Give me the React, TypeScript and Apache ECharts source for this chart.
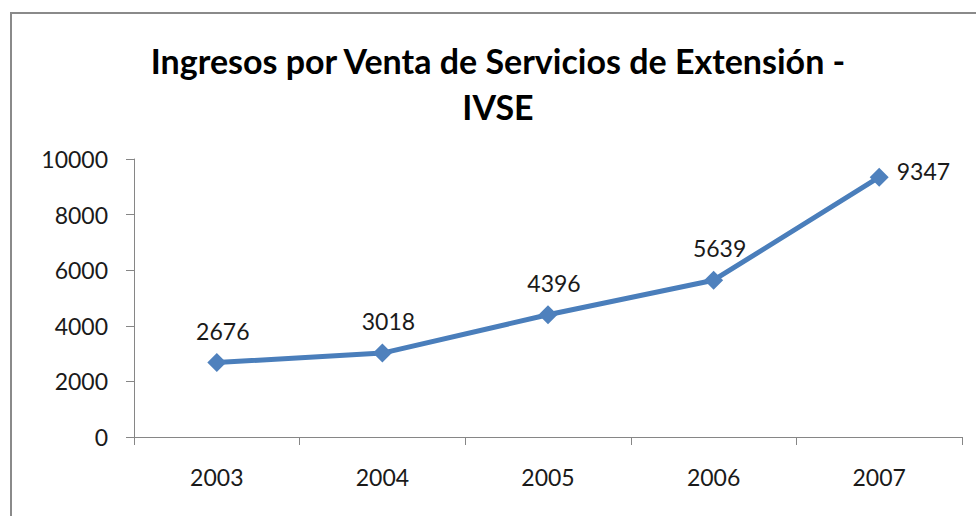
import React, { useEffect, useRef } from "react";
import * as echarts from "echarts";

const categories = ["2003", "2004", "2005", "2006", "2007"];
const values = [2676, 3018, 4396, 5639, 9347];
const titleLines = ["Ingresos por Venta de Servicios de Extensión -", "IVSE"];
const yMin = 0;
const yMax = 10000;
const yInterval = 2000;

const FONT = "Lato, 'Open Sans', sans-serif";

export default function App() {
  const ref = useRef<HTMLDivElement>(null);
  useEffect(() => {
    if (!ref.current) return;
    const chart = echarts.init(ref.current, undefined, { renderer: "svg" });
    const last = values.length - 1;
    chart.setOption({
      animation: false,
      backgroundColor: "#ffffff",
      title: {
        text: titleLines.join("\n"),
        left: 493,
        top: 32,
        textAlign: "center",
        textStyle: {
          fontFamily: FONT,
          fontWeight: "bold",
          fontSize: 34,
          lineHeight: 46,
          color: "#000000",
        },
      },
      graphic: [
        {
          type: "rect",
          shape: { x: 11, y: 13, width: 1000, height: 600 },
          style: { fill: "none", stroke: "#8a8a8a", lineWidth: 2 },
          silent: true,
        },
      ],
      grid: { left: 134, right: 14, top: 159, bottom: 79, containLabel: false },
      xAxis: {
        type: "category",
        data: categories,
        boundaryGap: true,
        axisLine: { lineStyle: { color: "#868686", width: 1 } },
        axisTick: { show: true, alignWithLabel: false, length: 8, lineStyle: { color: "#868686" } },
        axisLabel: { fontFamily: FONT, fontSize: 23, color: "#1a1a1a", margin: 28 },
        splitLine: { show: false },
      },
      yAxis: {
        type: "value",
        min: yMin,
        max: yMax,
        interval: yInterval,
        axisLine: { show: true, lineStyle: { color: "#868686", width: 1 } },
        axisTick: { show: true, length: 8, lineStyle: { color: "#868686" } },
        axisLabel: {
          fontFamily: FONT,
          fontSize: 23,
          color: "#1a1a1a",
          margin: 26,
          formatter: (v: number) => String(v),
        },
        splitLine: { show: false },
      },
      series: [
        {
          type: "line",
          data: values.map((v, i) =>
            i === last
              ? {
                  value: v,
                  label: { position: "right", distance: 8, offset: [0, -6] },
                }
              : v
          ),
          symbol: "diamond",
          symbolSize: 19,
          lineStyle: { color: "#4A7EBB", width: 5 },
          itemStyle: { color: "#4F81BD" },
          label: {
            show: true,
            position: "top",
            distance: 11,
            offset: [6, 0],
            fontFamily: FONT,
            fontSize: 23,
            color: "#1a1a1a",
          },
        },
      ],
    });
    return () => chart.dispose();
  }, []);
  return (
    <div
      ref={ref}
      style={{ position: "fixed", left: 0, top: 0, width: 976, height: 516 }}
    />
  );
}
